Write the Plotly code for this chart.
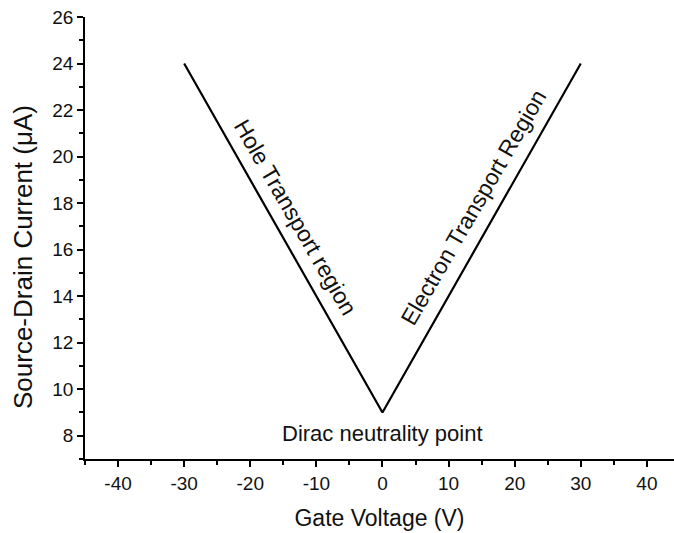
import plotly.graph_objects as go

gate_voltage = [-30, 0, 30]
current = [24, 9, 24]
x_ticks = [-40, -30, -20, -10, 0, 10, 20, 30, 40]
y_ticks = [8, 10, 12, 14, 16, 18, 20, 22, 24, 26]

FONT = "Arial, Liberation Sans, sans-serif"

fig = go.Figure()
fig.add_trace(go.Scatter(x=gate_voltage, y=current, mode="lines",
                         line=dict(color="black", width=2.2), showlegend=False))

fig.add_annotation(x=-13.2, y=17.4, text="Hole Transport region", showarrow=False,
                   textangle=60, font=dict(size=23, color="#111", family=FONT))
fig.add_annotation(x=13.7, y=17.8, text="Electron Transport Region", showarrow=False,
                   textangle=-60, font=dict(size=23, color="#111", family=FONT))
fig.add_annotation(x=0, y=8.1, text="Dirac neutrality point", showarrow=False,
                   font=dict(size=22, color="#111", family=FONT))
# y-axis title placed as annotation (reference is offset below plot centre)
fig.add_annotation(xref="paper", yref="paper", x=0, xshift=-62, y=0.457,
                   text="Source-Drain Current (μA)", showarrow=False, textangle=-90,
                   xanchor="center", yanchor="middle",
                   font=dict(size=26, color="#111", family=FONT))

fig.update_xaxes(range=[-45, 44.1], tickvals=x_ticks, ticktext=[str(v) for v in x_ticks],
                 showline=True, linecolor="black", linewidth=1.5, mirror=False,
                 ticks="outside", ticklen=6, tickwidth=1.5, tickcolor="black",
                 minor=dict(ticks="outside", ticklen=4, tickwidth=1.5, tickcolor="black", dtick=5, tick0=0),
                 showgrid=False, zeroline=False,
                 tickfont=dict(size=19, color="#111", family=FONT),
                 title=dict(text="Gate Voltage (V)", font=dict(size=23, color="#111", family=FONT), standoff=17))
fig.update_yaxes(range=[7, 26], tickvals=y_ticks, ticktext=[str(v) for v in y_ticks],
                 showline=True, linecolor="black", linewidth=1.5, mirror=False,
                 ticks="outside", ticklen=6, tickwidth=1.5, tickcolor="black",
                 minor=dict(ticks="outside", ticklen=4, tickwidth=1.5, tickcolor="black", dtick=1, tick0=0),
                 showgrid=False, zeroline=False,
                 tickfont=dict(size=19, color="#111", family=FONT))

fig.update_layout(width=674, height=533, margin=dict(l=85, r=0, t=17, b=74),
                  plot_bgcolor="white", paper_bgcolor="white")

fig.write_html("out.html")
